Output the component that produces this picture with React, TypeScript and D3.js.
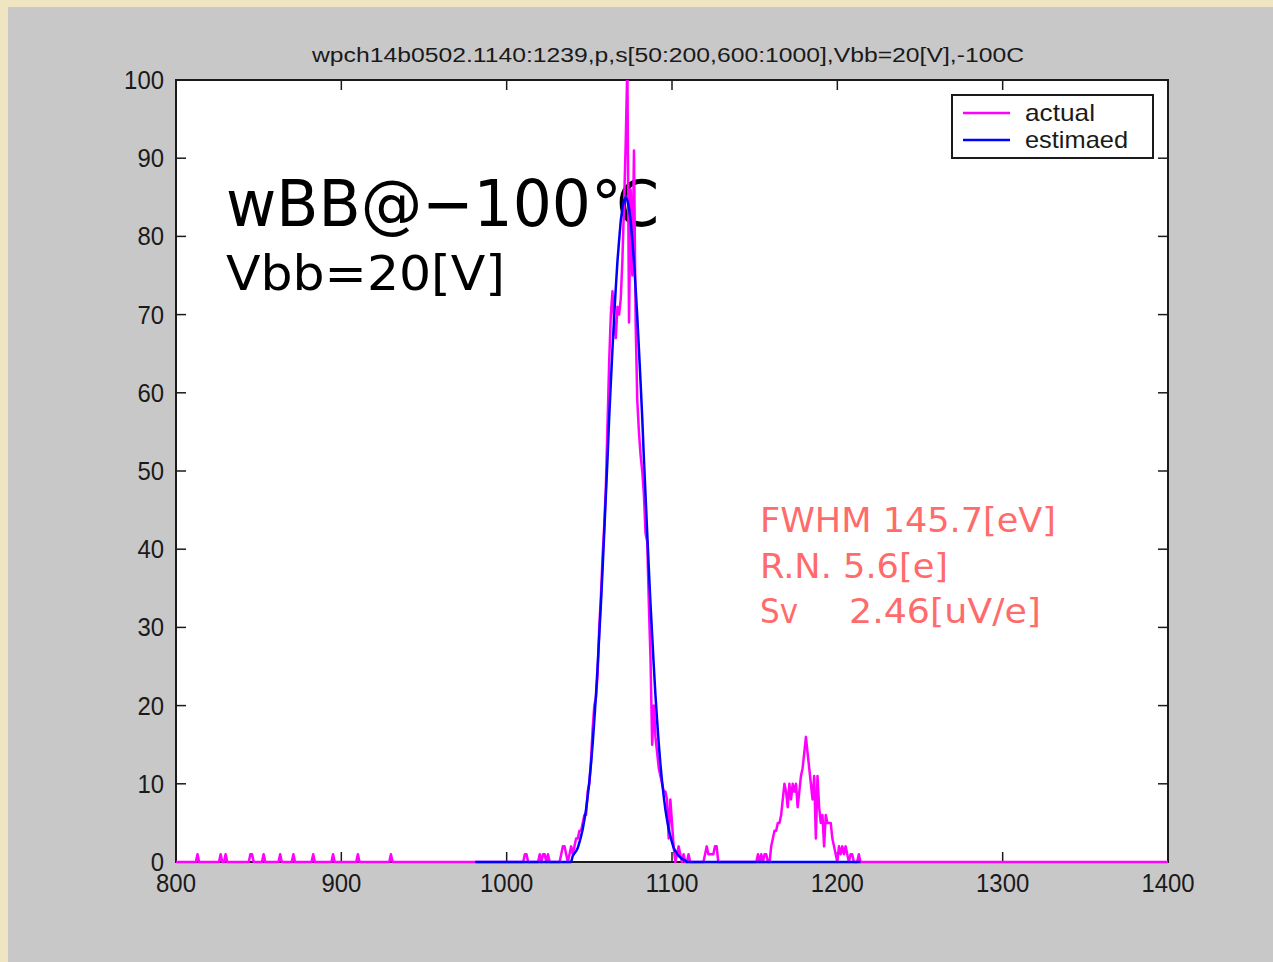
import React from "react";
import * as d3 from "d3";

// ---------- data ----------
const xTicks = [800, 900, 1000, 1100, 1200, 1300, 1400];
const yTicks = [0, 10, 20, 30, 40, 50, 60, 70, 80, 90, 100];

const channelRange = [800, 1400];

// isolated single counts of the "actual" spectrum [channel, count]
const actualSpikes: [number, number][] = [
  [813, 1], [827, 1], [830, 1], [845, 1], [846, 1], [853, 1], [863, 1],
  [871, 1], [883, 1], [895, 1], [910, 1], [930, 1],
];

// dense part of the "actual" spectrum, starting at channel 1008
const actualDenseStart = 1008;
const actualDense = [
  0, 0, 0, 1, 1, 0, 0, 0, 0, 0, 0, 0, 1, 0, 1, 1, 0, 1, 0, 0, // 1008-1027
  0, 0, 0, 0, 0, 1, 2, 2, 1, 0, 1, 2, 1, 2, 3, 3, 4, 4, 5, 6, // 1028-1047
  6, 9, 10, 13, 17, 20, 21, 24, 30, 34, 39, 43, 48, 56, 64, 70, 73, 69, 67, 71, // 1048-1067
  70, 72, 77, 84, 92, 102, 69, 86, 75, 91, 69, 59, 55, 52, 50, 47, 42, 41, 33, 26, // 1068-1087
  15, 20, 16, 14, 12, 11, 10, 9, 9, 8, 3, 8, 5, 2, 0, 1, 2, 1, 0, 1, // 1088-1107
  0, 0, 1, 0, 0, 0, 0, 0, 0, 0, 0, 0, 1, 2, 1, 1, 1, 1, 2, 2, // 1108-1127
  0, 0, 0, 0, 0, 0, 0, 0, 0, 0, 0, 0, 0, 0, 0, 0, 0, 0, 0, 0, // 1128-1147
  0, 0, 0, 0, 1, 0, 1, 0, 1, 1, 0, 0, 2, 3, 4, 4, 5, 5, 6, 8, // 1148-1167
  10, 9, 7, 10, 8, 10, 9, 10, 7, 9, 11, 12, 14, 16, 14, 12, 10, 8, 11, 3, // 1168-1187
  11, 7, 5, 6, 2, 6, 5, 5, 5, 3, 2, 1, 0, 2, 1, 2, 1, 2, 1, 0, // 1188-1207
  1, 1, 0, 0, 0, 1, 0, // 1208-1214
];

// "estimated" spectrum: covers channels 981..1214, non-zero part below
const estimatedRange = [981, 1214];
const estimatedDenseStart = 1040;
const estimatedDense = [
  0.8, 1.1, 1.4, 1.8, 2.5, 3.3, 4.2, 5.4, 6.7, 8.4, // 1040-1049
  10.3, 12.5, 15.1, 18.1, 21.3, 25.0, 29.0, 33.0, 37.4, 42.1, // 1050-1059
  46.9, 51.6, 56.8, 61.3, 65.6, 69.7, 73.4, 76.8, 79.5, 82.0, // 1060-1069
  83.6, 84.6, 85.0, 84.6, 83.6, 82.0, 79.5, 76.8, 73.4, 69.7, // 1070-1079
  65.6, 61.3, 56.8, 51.6, 46.9, 42.1, 37.4, 33.0, 29.0, 25.0, // 1080-1089
  21.3, 18.1, 15.1, 12.5, 10.3, 8.4, 6.7, 5.4, 4.2, 3.3, // 1090-1099
  2.5, 1.8, 1.4, 1.1, 0.8, 0.6, 0.4, 0.3, 0.2, // 1100-1108
];

const titleText = "wpch14b0502.1140:1239,p,s[50:200,600:1000],Vbb=20[V],-100C";
const legendLabels = ["actual", "estimaed"];
const noteBig = "wBB@\u2212100\u2103";
const noteSmall = "Vbb=20[V]";
const statLines = ["FWHM 145.7[eV]", "R.N. 5.6[e]"];
const svLabel = "Sv";
const svValue = "2.46[uV/e]";

// ---------- build series ----------
function buildActual(): [number, number][] {
  const m = new Map<number, number>();
  for (let c = channelRange[0]; c <= channelRange[1]; c++) m.set(c, 0);
  actualSpikes.forEach(([c, v]) => m.set(c, v));
  actualDense.forEach((v, i) => m.set(actualDenseStart + i, v));
  return Array.from(m.entries()).sort((a, b) => a[0] - b[0]);
}
function buildEstimated(): [number, number][] {
  const out: [number, number][] = [];
  for (let c = estimatedRange[0]; c <= estimatedRange[1]; c++) {
    const i = c - estimatedDenseStart;
    out.push([c, i >= 0 && i < estimatedDense.length ? estimatedDense[i] : 0]);
  }
  return out;
}

export default function App() {
  const W = 1273, H = 962;
  const L = 176, R = 1168, T = 80, B = 862;
  const x = d3.scaleLinear().domain([800, 1400]).range([L, R]);
  const y = d3.scaleLinear().domain([0, 100]).range([B, T]);
  const line = d3.line<[number, number]>().x(d => x(d[0])).y(d => y(d[1]));
  const actual = buildActual();
  const est = buildEstimated();
  const tickFont = "'Liberation Sans', Arial, sans-serif";
  const noteFont = "'DejaVu Sans', sans-serif";
  const tickLen = 10;
  const axisColor = "#1a1a1a";

  return (
    <svg width={W} height={H} style={{ position: "absolute", left: 0, top: 0, display: "block" }}>
      <defs>
        <clipPath id="plotclip">
          <rect x={L} y={T} width={R - L + 2} height={B - T + 3} />
        </clipPath>
      </defs>
      <rect x={0} y={0} width={W} height={H} fill="#efe5c1" />
      <rect x={8} y={7} width={W - 8} height={H - 7} fill="#c8c8c8" />
      <rect x={L} y={T} width={R - L} height={B - T} fill="#ffffff" />

      {/* title */}
      <text x={312} y={62} fontFamily={tickFont} fontSize={20} fill="#1a1a1a"
        textLength={712} lengthAdjust="spacingAndGlyphs">{titleText}</text>

      {/* ticks */}
      {xTicks.map(t => (
        <g key={"x" + t}>
          <line x1={x(t)} x2={x(t)} y1={B} y2={B - tickLen} stroke={axisColor} strokeWidth={1.5} />
          <line x1={x(t)} x2={x(t)} y1={T} y2={T + tickLen} stroke={axisColor} strokeWidth={1.5} />
          <text x={x(t)} y={892} textAnchor="middle" fontFamily={tickFont} fontSize={26} fill="#1a1a1a"
            textLength={String(t).length * 13.3} lengthAdjust="spacingAndGlyphs">{t}</text>
        </g>
      ))}
      {yTicks.map(t => (
        <g key={"y" + t}>
          <line x1={L} x2={L + tickLen} y1={y(t)} y2={y(t)} stroke={axisColor} strokeWidth={1.5} />
          <line x1={R} x2={R - tickLen} y1={y(t)} y2={y(t)} stroke={axisColor} strokeWidth={1.5} />
          <text x={164} y={y(t) + 9} textAnchor="end" fontFamily={tickFont} fontSize={26} fill="#1a1a1a"
            textLength={String(t).length * 13.3} lengthAdjust="spacingAndGlyphs">{t}</text>
        </g>
      ))}
      <rect x={L} y={T} width={R - L} height={B - T} fill="none" stroke={axisColor} strokeWidth={2} />

      {/* annotations */}
      <text x={226} y={226} fontFamily={noteFont} fontSize={64} fill="#000"
        textLength={434} lengthAdjust="spacingAndGlyphs">{noteBig}</text>
      <text x={226} y={290} fontFamily={noteFont} fontSize={48} fill="#000"
        textLength={279} lengthAdjust="spacingAndGlyphs">{noteSmall}</text>

      {/* data */}
      <g clipPath="url(#plotclip)">
        <path d={line(actual) || ""} fill="none" stroke="#ff00ff" strokeWidth={2.5} strokeLinejoin="round" />
        <path d={line(est) || ""} fill="none" stroke="#0000ff" strokeWidth={2.5} strokeLinejoin="round" />
      </g>

      {/* stats */}
      <text x={760} y={532} fontFamily={noteFont} fontSize={34} fill="#ff6b6b"
        textLength={296} lengthAdjust="spacingAndGlyphs">{statLines[0]}</text>
      <text x={760} y={578} fontFamily={noteFont} fontSize={34} fill="#ff6b6b"
        textLength={188} lengthAdjust="spacingAndGlyphs">{statLines[1]}</text>
      <text x={760} y={623} fontFamily={noteFont} fontSize={34} fill="#ff6b6b"
        textLength={38} lengthAdjust="spacingAndGlyphs">{svLabel}</text>
      <text x={849} y={623} fontFamily={noteFont} fontSize={34} fill="#ff6b6b"
        textLength={192} lengthAdjust="spacingAndGlyphs">{svValue}</text>

      {/* legend */}
      <rect x={952} y={95} width={201} height={63} fill="#ffffff" stroke={axisColor} strokeWidth={2} />
      <line x1={963} x2={1010} y1={113} y2={113} stroke="#ff00ff" strokeWidth={2.5} />
      <line x1={963} x2={1010} y1={140} y2={140} stroke="#0000ff" strokeWidth={2.5} />
      <text x={1025} y={121} fontFamily={tickFont} fontSize={24} fill="#1a1a1a"
        textLength={70} lengthAdjust="spacingAndGlyphs">{legendLabels[0]}</text>
      <text x={1025} y={148} fontFamily={tickFont} fontSize={24} fill="#1a1a1a"
        textLength={103} lengthAdjust="spacingAndGlyphs">{legendLabels[1]}</text>
    </svg>
  );
}
